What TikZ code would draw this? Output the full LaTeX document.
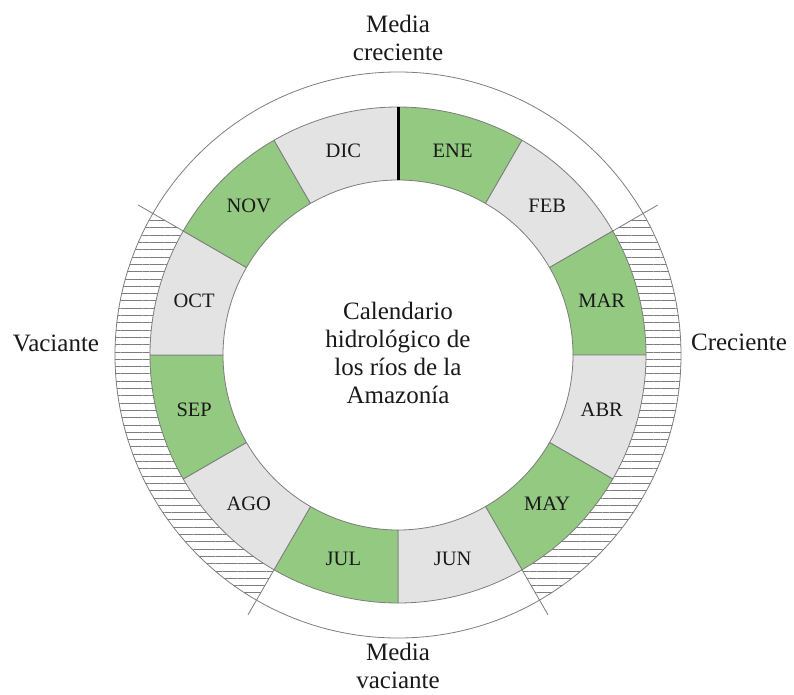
\documentclass[tikz,border=0pt]{standalone}
\usepackage{fontspec}
\setmainfont{Liberation Serif}
\usepackage{tikz}
\usetikzlibrary{patterns.meta}
\definecolor{wetgreen}{RGB}{147,201,129}
\definecolor{drygray}{RGB}{227,227,227}
\definecolor{edgegray}{RGB}{125,125,125}

\tikzset{
	month/.style={font=\fontsize{20.5}{24}\selectfont, text=black!90},
	season/.style={font=\fontsize{25}{28}\selectfont, align=center, text=black!90},
	sector/.style={draw=edgegray, line width=0.8pt},
	hatchband/.style={pattern={Lines[angle=0,distance=7.3pt,line width=0.7pt]}, pattern color=edgegray},
}

\begin{document}
\begin{tikzpicture}[x=1pt,y=1pt]
	\useasboundingbox (-398,-340) rectangle (396,355);

	% outer band
	\fill[hatchband] (30:248) arc[start angle=30,end angle=-60,radius=248] -- (-60:283) arc[start angle=-60,end angle=30,radius=283] -- cycle;
	\fill[hatchband] (150:248) arc[start angle=150,end angle=240,radius=248] -- (240:283) arc[start angle=240,end angle=150,radius=283] -- cycle;
	\draw[edgegray, line width=0.8pt] (0,0) circle[radius=283];
	\draw[edgegray, line width=0.8pt] (30:248) -- (30:300);
	\draw[edgegray, line width=0.8pt] (-60:248) -- (-60:300);
	\draw[edgegray, line width=0.8pt] (150:248) -- (150:300);
	\draw[edgegray, line width=0.8pt] (240:248) -- (240:300);

	% months
	\filldraw[sector, fill=wetgreen] (90:175) arc[start angle=90,end angle=60,radius=175] -- (60:248) arc[start angle=60,end angle=90,radius=248] -- cycle;
	\filldraw[sector, fill=drygray] (60:175) arc[start angle=60,end angle=30,radius=175] -- (30:248) arc[start angle=30,end angle=60,radius=248] -- cycle;
	\filldraw[sector, fill=wetgreen] (30:175) arc[start angle=30,end angle=0,radius=175] -- (0:248) arc[start angle=0,end angle=30,radius=248] -- cycle;
	\filldraw[sector, fill=drygray] (0:175) arc[start angle=0,end angle=-30,radius=175] -- (-30:248) arc[start angle=-30,end angle=0,radius=248] -- cycle;
	\filldraw[sector, fill=wetgreen] (-30:175) arc[start angle=-30,end angle=-60,radius=175] -- (-60:248) arc[start angle=-60,end angle=-30,radius=248] -- cycle;
	\filldraw[sector, fill=drygray] (-60:175) arc[start angle=-60,end angle=-90,radius=175] -- (-90:248) arc[start angle=-90,end angle=-60,radius=248] -- cycle;
	\filldraw[sector, fill=wetgreen] (-90:175) arc[start angle=-90,end angle=-120,radius=175] -- (-120:248) arc[start angle=-120,end angle=-90,radius=248] -- cycle;
	\filldraw[sector, fill=drygray] (-120:175) arc[start angle=-120,end angle=-150,radius=175] -- (-150:248) arc[start angle=-150,end angle=-120,radius=248] -- cycle;
	\filldraw[sector, fill=wetgreen] (-150:175) arc[start angle=-150,end angle=-180,radius=175] -- (-180:248) arc[start angle=-180,end angle=-150,radius=248] -- cycle;
	\filldraw[sector, fill=drygray] (180:175) arc[start angle=180,end angle=150,radius=175] -- (150:248) arc[start angle=150,end angle=180,radius=248] -- cycle;
	\filldraw[sector, fill=wetgreen] (150:175) arc[start angle=150,end angle=120,radius=175] -- (120:248) arc[start angle=120,end angle=150,radius=248] -- cycle;
	\filldraw[sector, fill=drygray] (120:175) arc[start angle=120,end angle=90,radius=175] -- (90:248) arc[start angle=90,end angle=120,radius=248] -- cycle;
	\draw[black, line width=3pt] (90:175) -- (90:248);

	\node[month] (ene) at (75:211) {ENE};
	\node[month] (feb) at (45:211) {FEB};
	\node[month] (mar) at (15:211) {MAR};
	\node[month] (abr) at (-15:211) {ABR};
	\node[month] (may) at (-45:211) {MAY};
	\node[month] (jun) at (-75:211) {JUN};
	\node[month] (jul) at (-105:211) {JUL};
	\node[month] (ago) at (-135:211) {AGO};
	\node[month] (sep) at (-165:211) {SEP};
	\node[month] (oct) at (165:211) {OCT};
	\node[month] (nov) at (135:211) {NOV};
	\node[month] (dic) at (105:211) {DIC};

	% seasons
	\node[season] (title) at (0,2) {Calendario\\hidrológico de\\los ríos de la\\Amazonía};
	\node[season] (mediacre) at (0,317) {Media\\creciente};
	\node[season] (mediavac) at (0,-311) {Media\\vaciante};
	\node[season] (vac) at (-342,12) {Vaciante};
	\node[season] (cre) at (341,13) {Creciente};
\end{tikzpicture}
\end{document}
